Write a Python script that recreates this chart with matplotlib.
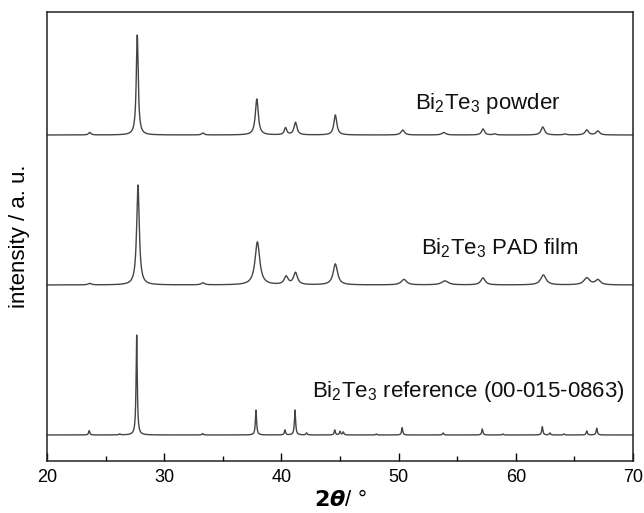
import matplotlib
matplotlib.use("Agg")
import matplotlib.pyplot as plt
import numpy as np

plt.rcParams['font.family'] = ['Liberation Sans', 'DejaVu Sans']
plt.rcParams['mathtext.fontset'] = 'custom'
plt.rcParams['mathtext.rm'] = 'Liberation Sans'
plt.rcParams['mathtext.it'] = 'Liberation Sans:italic'

# Peak lists: position (2theta), height, FWHM
powder_pos = [23.65, 27.70, 33.30, 37.90, 40.35, 41.20, 44.60, 50.35, 53.85, 57.20, 58.20, 62.30, 64.20, 66.05, 67.00]
powder_h = [2.5, 100, 2.0, 36, 7, 12.5, 20, 5, 2.5, 6, 1, 8, 1, 5, 4]
powder_w = [0.25, 0.20, 0.25, 0.30, 0.25, 0.30, 0.30, 0.35, 0.4, 0.3, 0.3, 0.35, 0.3, 0.35, 0.35]

film_pos = [23.65, 27.76, 33.30, 37.95, 40.40, 41.20, 44.60, 50.45, 53.95, 57.20, 62.35, 66.05, 67.00]
film_h = [1.5, 100, 2.0, 43, 8, 12, 21, 5.5, 4, 7, 10, 7, 5]
film_w = [0.35, 0.27, 0.35, 0.48, 0.40, 0.40, 0.45, 0.55, 0.70, 0.45, 0.55, 0.6, 0.5]

ref_pos = [23.60, 26.20, 27.65, 33.28, 37.83, 40.30, 41.16, 42.15, 44.55, 45.00, 45.28, 48.10, 50.30, 53.80, 57.14, 58.90, 62.26, 62.90, 64.10, 66.05, 66.90]
ref_h = [4.3, 1, 100, 1.5, 25, 5, 25, 2, 5, 3.5, 3, 1, 7.3, 2, 6, 1, 8.3, 2, 1, 4, 6.7]
ref_w = [0.12] * len(ref_pos)

offsets = [326, 176, 26]
labels = [r'Bi$_2$Te$_3$ powder', r'Bi$_2$Te$_3$ PAD film', r'Bi$_2$Te$_3$ reference (00-015-0863)']
label_x = [51.4, 51.95, 42.6]
label_y = [352, 207, 64]

x = np.linspace(20, 70, 5001)


def pattern(pos, h, w):
    y = np.zeros_like(x)
    for p, a, fw in zip(pos, h, w):
        g = fw / 2
        y += a * g**2 / ((x - p)**2 + g**2)
    return y


fig, ax = plt.subplots(figsize=(6.44, 5.13), dpi=100)
fig.subplots_adjust(left=0.073, right=0.983, bottom=0.1014, top=0.9766)

series = [(powder_pos, powder_h, powder_w), (film_pos, film_h, film_w), (ref_pos, ref_h, ref_w)]
for (pos, h, w), off, lab, lx, ly in zip(series, offsets, labels, label_x, label_y):
    ax.plot(x, pattern(pos, h, w) + off, color='#454545', lw=1.0)
    ax.text(lx, ly, lab, fontsize=16, color='#111111', va='baseline', ha='left')

ax.set_xlim(20, 70)
ax.set_ylim(0, 449)
ax.set_yticks([])
ax.set_xticks([20, 30, 40, 50, 60, 70])
ax.set_xticks([25, 35, 45, 55, 65], minor=True)
ax.tick_params(axis='x', which='major', direction='in', length=6, width=1, labelsize=13, pad=6)
ax.tick_params(axis='x', which='minor', direction='in', length=3.5, width=1)
for s in ax.spines.values():
    s.set_linewidth(1.1)
    s.set_color('#222222')

ax.set_ylabel('intensity / a. u.', fontsize=16, labelpad=12)
ax.set_xlabel(r'$\mathbf{2}\boldsymbol{\theta}$/ °', fontsize=16, labelpad=3)

fig.savefig('out.png', dpi=100)
